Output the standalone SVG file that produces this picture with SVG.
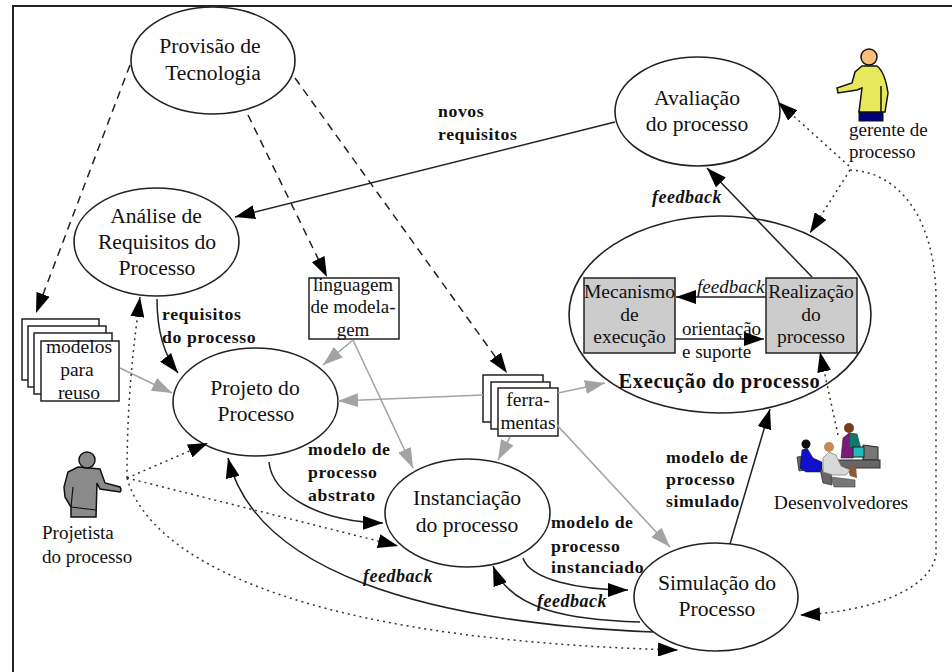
<svg xmlns="http://www.w3.org/2000/svg" width="952" height="672" viewBox="0 0 952 672">
<style>
text{font-family:"Liberation Serif","Times New Roman",serif;font-size:21.6px;fill:#111;text-anchor:middle}
.s{font-size:19.5px}
.n{font-size:19px}
.l{font-size:19px;text-anchor:start}
.b{font-weight:bold;font-size:17.7px;letter-spacing:.6px;text-anchor:start}
.f{font-weight:bold;font-style:italic;font-size:18px;letter-spacing:.5px;text-anchor:start}
ellipse{fill:#fff;stroke:#222;stroke-width:1.6}
.box{fill:#fff;stroke:#222;stroke-width:1.5}
.grey{fill:#ccc;stroke:#222;stroke-width:1.5}
.k{fill:none;stroke:#222;stroke-width:1.5;marker-end:url(#ka)}
.g{fill:none;stroke:#a3a3a3;stroke-width:1.6;marker-end:url(#ga)}
.d{fill:none;stroke:#222;stroke-width:1.5;stroke-dasharray:8 6;marker-end:url(#ka)}
.o{fill:none;stroke:#333;stroke-width:1.5;stroke-dasharray:2 4;marker-end:url(#ka)}
.fig{stroke:#111;stroke-width:1.5}
</style>
<defs>
<marker id="ka" markerUnits="userSpaceOnUse" markerWidth="20" markerHeight="14" refX="20" refY="7" orient="auto"><path d="M0 0L20 7L0 14z" fill="#000"/></marker>
<marker id="ga" markerUnits="userSpaceOnUse" markerWidth="20" markerHeight="14" refX="20" refY="7" orient="auto"><path d="M0 0L20 7L0 14z" fill="#a3a3a3"/></marker>
</defs>
<rect width="952" height="672" fill="#fff"/>
<path d="M13 672V6H952" fill="none" stroke="#222" stroke-width="2"/>

<g id="provisao"><ellipse cx="213" cy="60.5" rx="82" ry="53.5"/><text x="210" y="53">Provisão de</text><text x="213" y="80">Tecnologia</text></g>
<g id="avaliacao"><ellipse cx="697.5" cy="111.5" rx="82.5" ry="54.5"/><text x="697" y="105">Avaliação</text><text x="697" y="131">do processo</text></g>
<g id="analise"><ellipse cx="156.5" cy="242" rx="82.5" ry="54"/><text x="156" y="223">Análise de</text><text x="157" y="249">Requisitos do</text><text x="157" y="275">Processo</text></g>
<g id="execucao"><ellipse cx="720" cy="314.5" rx="151" ry="98.5"/>
<rect class="grey" x="584" y="278" width="91" height="75"/><text class="s" x="629.5" y="298">Mecanismo</text><text class="s" x="629.5" y="321">de</text><text class="s" x="629.5" y="343">execução</text>
<rect class="grey" x="766" y="278" width="91" height="75"/><text class="s" x="811" y="298">Realização</text><text class="s" x="811" y="321">do</text><text class="s" x="811" y="343">processo</text>
<text class="l" x="697" y="293" style="font-style:italic">feedback</text>
<text class="l" x="682" y="335">orientação</text><text class="l" x="682" y="358">e suporte</text>
<text x="719.5" y="388" style="font-weight:bold;font-size:20.5px;letter-spacing:.6px">Execução do processo</text></g>
<g id="projeto"><ellipse cx="255.5" cy="402" rx="82.5" ry="54"/><text x="255" y="395">Projeto do</text><text x="256" y="421">Processo</text></g>
<g id="instanciacao"><ellipse cx="467.5" cy="513" rx="82.5" ry="54"/><text x="467" y="505">Instanciação</text><text x="467" y="532">do processo</text></g>
<g id="simulacao"><ellipse cx="716" cy="597" rx="82" ry="54"/><text x="717" y="590">Simulação do</text><text x="717" y="616">Processo</text></g>
<g id="modelos">
<rect class="box" x="22" y="319" width="77" height="61"/><rect class="box" x="28" y="326" width="78" height="61"/><rect class="box" x="34" y="333" width="78" height="61"/><rect class="box" x="41" y="341" width="78" height="60"/>
<text class="s" x="79" y="353">modelos</text><text class="s" x="77" y="376">para</text><text class="s" x="79" y="399">reuso</text></g>
<g id="linguagem"><rect class="box" x="309" y="278" width="90" height="61"/><text class="n" x="353" y="291">linguagem</text><text class="n" x="353" y="313">de modela-</text><text class="n" x="353" y="336">gem</text></g>
<g id="ferramentas">
<rect class="box" x="483" y="375" width="60" height="47"/><rect class="box" x="491" y="382" width="59" height="47"/><rect class="box" x="498" y="388" width="60" height="48"/>
<text class="s" x="528" y="406">ferra-</text><text class="s" x="528" y="429">mentas</text></g>
<g id="projetista">
<path class="fig" d="M78 467L100 469L105 483L120 487Q122 490 120 492L100 489L97 483L96 517H71V507L65 497L64 487L68 472z" fill="#8a8a8a"/>
<path d="M71 507L96 510M73 487L71 507" fill="none" stroke="#111" stroke-width="1.2"/>
<circle class="fig" cx="87" cy="460" r="8" fill="#8a8a8a"/>
<text class="l" x="42" y="539">Projetista</text><text class="l" x="42" y="563">do processo</text></g>
<g id="gerente">
<rect x="859" y="111" width="24" height="10" fill="#00007a" stroke="#111"/>
<path class="fig" d="M862 66L877 66Q885 72 888 93L885 112L859 112L862 88L857 90L838 93L837 88L852 83L855 72z" fill="#e8e85c"/>
<path d="M881 86L881 112" stroke="#111" stroke-width="1.5"/>
<circle class="fig" cx="869" cy="57" r="8" fill="#fbbf7c"/>
<text class="l" x="849" y="136">gerente de</text><text class="l" x="849" y="158">processo</text></g>
<g id="desenvolvedores">
<path d="M863 445L878 447V460H863z" fill="#777" stroke="#222"/>
<rect x="835" y="460" width="45" height="8" fill="#666" stroke="#333"/>
<path d="M841 458L843 438L849 433L857 434L860 447L853 458z" fill="#7a1a7a" stroke="#222" stroke-width=".6"/>
<path d="M850 434L857 434L861 447H850z" fill="#13776a"/>
<rect x="853" y="447" width="11" height="10" fill="#22bbbb" stroke="#222"/>
<circle cx="849" cy="428" r="5" fill="#7a3c18"/>
<path d="M797 457L803 456L805 470L799 471z" fill="#666" stroke="#222" stroke-width=".7"/>
<path d="M800 468L802 450L807 448L813 458L822 462V472H806z" fill="#1010c8" stroke="#111" stroke-width=".5"/>
<circle cx="806" cy="444" r="4.5" fill="#111"/>
<path d="M820 469L831 473L832 485L823 483z" fill="#666" stroke="#222" stroke-width=".7"/>
<path d="M831 477L855 480V487H834z" fill="#777" stroke="#444" stroke-width=".6"/>
<path d="M847 467L856 466L857 478L850 476z" fill="#8a5a30"/>
<path d="M823 472V458L829 452L836 455L841 466L850 470L846 475H833z" fill="#d8d8d8" stroke="#777" stroke-width=".7"/>
<circle cx="829" cy="447" r="5" fill="#c88a55"/>
<text class="s" x="841" y="509">Desenvolvedores</text></g>

<g id="connectors">
<path class="d" d="M130 65L36 313"/>
<path class="d" d="M248 115L327 277"/>
<path class="d" d="M295 78L507 373"/>
<path class="k" d="M615 122L235 217"/>
<path class="k" d="M157 299C157 330 163 354 178 373"/>
<path class="k" d="M812 277L707 168"/>
<path class="k" d="M766 297H676"/>
<path class="k" d="M675 339H764"/>
<path class="k" d="M730 544L770 409"/>
<path class="k" d="M269 462C272 495 320 522 383 523"/>
<path class="k" d="M523 558C530 580 580 590 628 590"/>
<path class="k" d="M640 622C570 620 510 610 493 566"/>
<path class="k" d="M653 632C420 622 255 570 228 458"/>
<path class="g" d="M120 368L172 393"/>
<path class="g" d="M353 340L323 365"/>
<path class="g" d="M353 340L413 468"/>
<path class="g" d="M483 395L338 401"/>
<path class="g" d="M558 393L605 383"/>
<path class="g" d="M510 437L498 460"/>
<path class="g" d="M557 425L670 547"/>
<path class="o" d="M127 478L208 443"/>
<path class="o" d="M127 478L398 546"/>
<path class="o" d="M127 478C127 400 133 350 140 297"/>
<path class="o" d="M127 478C150 560 300 640 678 650"/>
<path class="o" d="M849 166L778 102"/>
<path class="o" d="M850 170L810 233"/>
<path class="o" d="M850 170C900 172 936 220 936 300V555C930 590 870 612 800 615"/>
<path class="o" d="M838 435L820 352"/>
</g>

<g id="labels">
<text class="b" x="438" y="117">novos</text><text class="b" x="438" y="140">requisitos</text>
<text class="f" x="652" y="203">feedback</text>
<text class="b" x="162" y="320">requisitos</text><text class="b" x="162" y="343">do processo</text>
<text class="b" x="308" y="455">modelo de</text><text class="b" x="308" y="478">processo</text><text class="b" x="308" y="501">abstrato</text>
<text class="b" x="666" y="463">modelo de</text><text class="b" x="666" y="485">processo</text><text class="b" x="666" y="507">simulado</text>
<text class="b" x="551" y="528">modelo de</text><text class="b" x="551" y="552">processo</text><text class="b" x="551" y="573">instanciado</text>
<text class="f" x="363" y="582">feedback</text>
<text class="f" x="537" y="607">feedback</text>
</g>
</svg>
